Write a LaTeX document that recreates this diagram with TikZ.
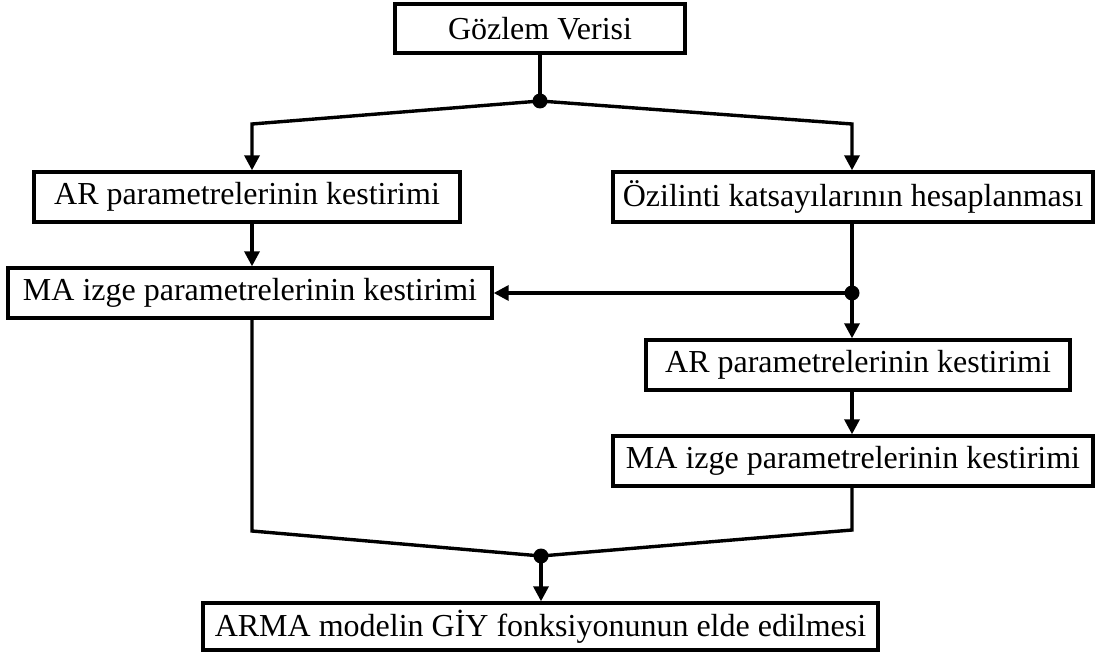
\documentclass[tikz,border=0pt]{standalone}
\usepackage{fontspec}
\setmainfont{Liberation Serif}
\usetikzlibrary{arrows.meta}
\begin{document}
\begin{tikzpicture}[x=1pt,y=-1pt,
  box/.style={draw,line width=3.4pt,rectangle,inner sep=0pt,font=\fontsize{32}{36}\selectfont},
  conn/.style={line width=3.4pt},
  arr/.style={conn,-{Triangle[length=15pt,width=15pt]}},
  dotnode/.style={circle,fill,inner sep=0pt,minimum size=15pt}]
\useasboundingbox (0,0) rectangle (1095,652);
\node[box,minimum width=290pt,minimum height=49pt] (top) at (540,28.5) {Gözlem Verisi};
\node[box,minimum width=426pt,minimum height=50pt] (lar) at (247,197) {AR parametrelerinin kestirimi};
\node[box,minimum width=480pt,minimum height=50pt] (oz) at (853,197) {Özilinti katsayılarının hesaplanması};
\node[box,minimum width=484pt,minimum height=50pt] (lma) at (250,293) {MA izge parametrelerinin kestirimi};
\node[box,minimum width=424pt,minimum height=50pt] (rar) at (858,365) {AR parametrelerinin kestirimi};
\node[box,minimum width=480pt,minimum height=50pt] (rma) at (853,461) {MA izge parametrelerinin kestirimi};
\node[box,minimum width=675pt,minimum height=47pt] (bot) at (540.5,626.5) {ARMA modelin GİY fonksiyonunun elde edilmesi};
\node[dotnode] (d1) at (540,101) {};
\node[dotnode] (d2) at (852,293) {};
\node[dotnode] (d3) at (541,556) {};
\coordinate (cl) at (252,124);
\coordinate (cr) at (852,124);
\coordinate (bl) at (252,531);
\coordinate (br) at (852,530);
\draw[conn] (top.south -| d1) -- (d1.center);
\draw[arr] (d1.center) -- (cl) -- (cl |- lar.north);
\draw[arr] (d1.center) -- (cr) -- (cr |- oz.north);
\draw[arr] (cl |- lar.south) -- (cl |- lma.north);
\draw[conn] (cr |- oz.south) -- (d2.center);
\draw[arr] (d2.center) -- (d2 |- rar.north);
\draw[arr] (d2.center) -- (lma.east |- d2);
\draw[arr] (d2 |- rar.south) -- (d2 |- rma.north);
\draw[conn] (bl |- lma.south) -- (bl) -- (d3.center);
\draw[conn] (br |- rma.south) -- (br) -- (d3.center);
\draw[arr] (d3.center) -- (d3 |- bot.north);
\end{tikzpicture}
\end{document}
